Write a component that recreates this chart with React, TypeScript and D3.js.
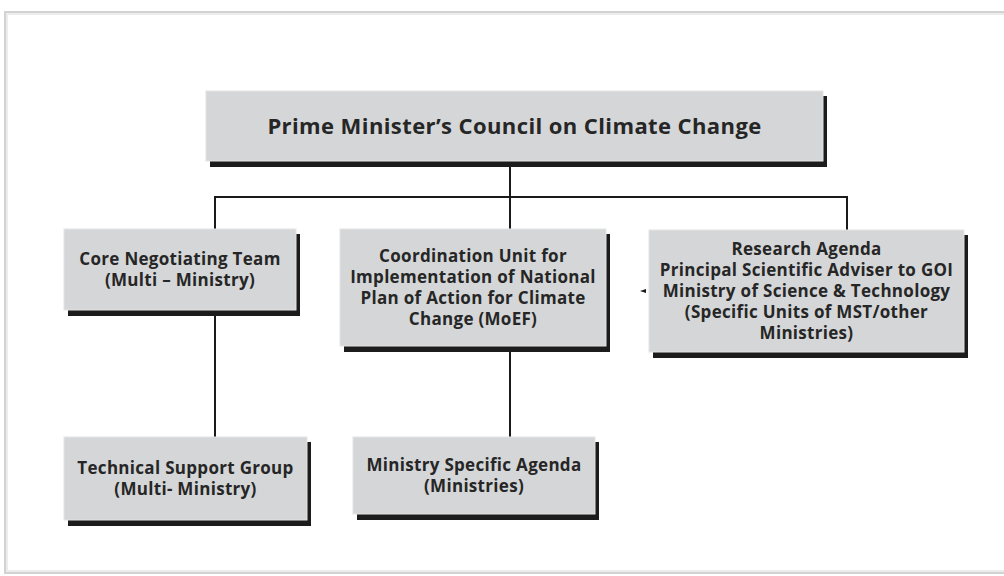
import React from "react";
import * as d3 from "d3";

// ---- content ----
const titleLines: string[] = ["Prime Minister\u2019s Council on Climate Change"];
const coreLines: string[] = ["Core Negotiating Team", "(Multi \u2013 Ministry)"];
const coordLines: string[] = [
  "Coordination Unit for",
  "Implementation of National",
  "Plan of Action for Climate",
  "Change (MoEF)",
];
const researchLines: string[] = [
  "Research Agenda",
  "Principal Scientific Adviser to GOI",
  "Ministry of Science & Technology",
  "(Specific Units of MST/other",
  "Ministries)",
];
const techLines: string[] = ["Technical Support Group", "(Multi- Ministry)"];
const ministryLines: string[] = ["Ministry Specific Agenda", "(Ministries)"];

const nodeIds: string[] = ["pm", "core", "coord", "research", "tech", "ministry"];
const nodeLabels: string[][] = [titleLines, coreLines, coordLines, researchLines, techLines, ministryLines];
const parentIds: (string | null)[] = [null, "pm", "pm", "pm", "core", "coord"];

// ---- layout (pixels) ----
const layout: Record<string, { x: number; y: number; w: number; h: number; fs: number; lh: number; ls: number; link?: number }> = {
  pm: { x: 206, y: 91, w: 617, h: 70, fs: 22, lh: 24, ls: 0.4, link: 510 },
  core: { x: 64, y: 229, w: 232, h: 81, fs: 17, lh: 21, ls: 0.3, link: 215 },
  coord: { x: 340, y: 229, w: 266, h: 117, fs: 17, lh: 21, ls: 0.3, link: 510 },
  research: { x: 649, y: 230, w: 315, h: 122, fs: 17, lh: 21, ls: 0.3, link: 847 },
  tech: { x: 64, y: 437, w: 243, h: 83, fs: 17, lh: 21, ls: 0.3, link: 215 },
  ministry: { x: 353, y: 437, w: 242, h: 77, fs: 17, lh: 21, ls: 0.3, link: 510 },
};
const busY = 197;
const SDX = 4;
const SDY = 5;

export default function App() {
  const line = d3.line<[number, number]>();
  const nodes = nodeIds.map((id, i) => ({ id, lines: nodeLabels[i], parent: parentIds[i], ...layout[id] }));

  const links: [number, number][][] = [];
  const pm = layout.pm;
  const topChildren = nodes.filter((n) => n.parent === "pm");
  const xs = topChildren.map((n) => n.link as number);
  links.push([[pm.link as number, pm.y + pm.h + SDY + 1], [pm.link as number, busY]]);
  links.push([[d3.min(xs) as number, busY], [d3.max(xs) as number, busY]]);
  topChildren.forEach((n) => links.push([[n.link as number, busY], [n.link as number, n.y]]));
  nodes
    .filter((n) => n.parent && n.parent !== "pm")
    .forEach((n) => {
      const p = layout[n.parent as string];
      links.push([[n.link as number, p.y + p.h + SDY + 1], [n.link as number, n.y]]);
    });

  const research = layout.research;
  const arrowX = research.x - 9;
  const arrowY = research.y + 61;

  return (
    <svg
      width={1004}
      height={576}
      style={{ position: "absolute", left: 0, top: 0, background: "#ffffff" }}
      fontFamily="'Open Sans', 'Noto Sans', sans-serif"
    >
      <rect x={5} y={12} width={1020} height={561} fill="#ffffff" stroke="#d2d2d2" strokeWidth={2} />
      <rect x={7} y={14} width={1020} height={557} fill="none" stroke="#ececec" strokeWidth={2} />
      {links.map((l, i) => (
        <path key={i} d={line(l) as string} stroke="#1a1a1a" strokeWidth={2} fill="none" strokeLinecap="square" />
      ))}
      <path
        d={`M${arrowX},${arrowY} L${arrowX + 6},${arrowY - 2} L${arrowX + 6},${arrowY + 2} Z`}
        fill="#1a1a1a"
      />
      {nodes.map((n) => {
        const cy = n.y + n.h / 2;
        const startY = cy - ((n.lines.length - 1) * n.lh) / 2;
        return (
          <g key={n.id}>
            <rect x={n.x + SDX} y={n.y + SDY} width={n.w} height={n.h + 1} fill="#1c1c1c" />
            <rect x={n.x} y={n.y} width={n.w} height={n.h} fill="#d5d6d8" stroke="#e4e4e4" strokeWidth={1} />
            {n.lines.map((t, j) => (
              <text
                key={j}
                x={n.x + n.w / 2}
                y={startY + j * n.lh}
                dy="0.35em"
                textAnchor="middle"
                fontSize={n.fs}
                fontWeight={700}
                letterSpacing={n.ls}
                fill="#262626"
              >
                {t}
              </text>
            ))}
          </g>
        );
      })}
    </svg>
  );
}
